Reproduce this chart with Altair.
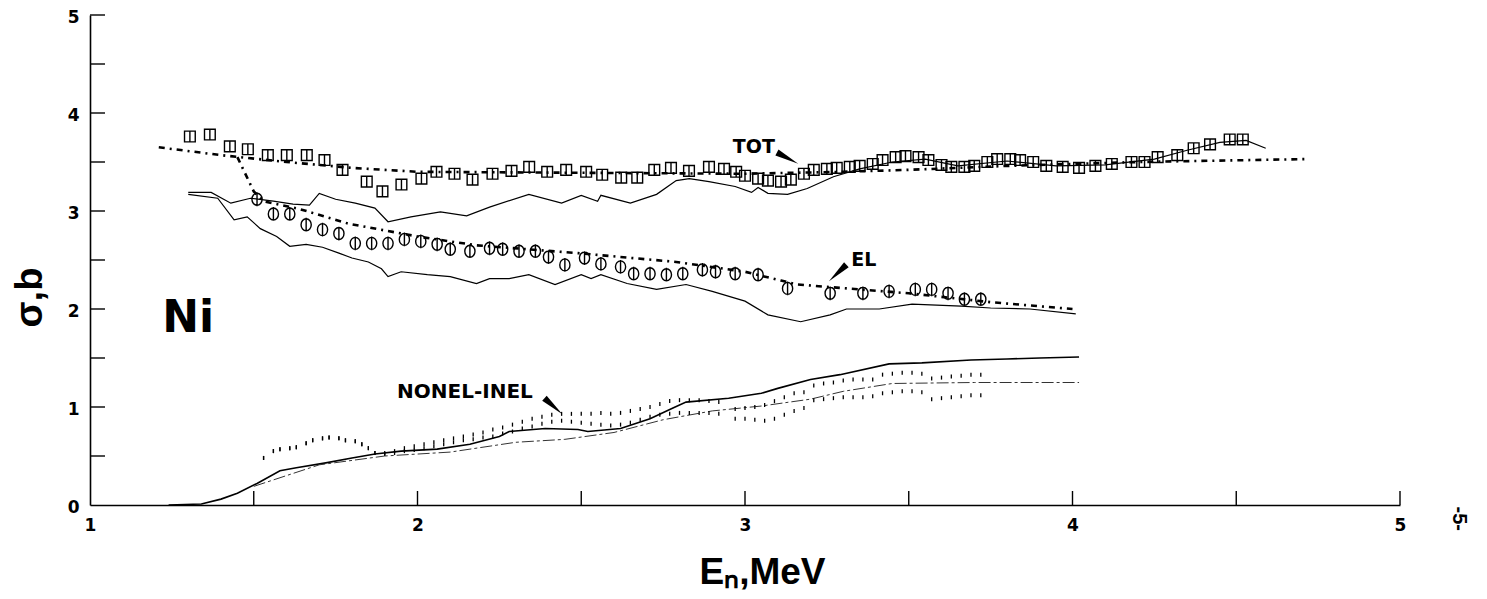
import altair as alt
import pandas as pd

# ---------------- data ----------------
# TOT experimental (squares)
tot_exp_x = [1.305, 1.366, 1.427, 1.482, 1.543, 1.601, 1.662, 1.716, 1.771, 1.845, 1.893, 1.951,
             2.012, 2.058, 2.113, 2.168, 2.229, 2.287, 2.341, 2.396, 2.454, 2.515, 2.564, 2.622,
             2.671, 2.723, 2.774, 2.829, 2.890, 2.936, 2.973,
             3.00, 3.04, 3.07, 3.11, 3.14, 3.18, 3.21, 3.25, 3.28, 3.32, 3.35, 3.39, 3.42, 3.46,
             3.49, 3.53, 3.56, 3.60, 3.63, 3.67, 3.70, 3.74, 3.77, 3.81, 3.84, 3.88, 3.92, 3.97,
             4.02, 4.07, 4.12, 4.18, 4.22, 4.26, 4.32, 4.37, 4.42, 4.48, 4.52]
tot_exp_y = [3.76, 3.78, 3.66, 3.63, 3.57, 3.57, 3.57, 3.52, 3.42, 3.30, 3.20, 3.27,
             3.33, 3.40, 3.38, 3.32, 3.38, 3.41, 3.45, 3.40, 3.42, 3.40, 3.37, 3.34,
             3.34, 3.42, 3.44, 3.41, 3.45, 3.43, 3.40,
             3.36, 3.33, 3.31, 3.30, 3.32, 3.38, 3.42, 3.43, 3.44, 3.45, 3.46, 3.48, 3.52, 3.55,
             3.56, 3.55, 3.52, 3.47, 3.45, 3.45, 3.46, 3.50, 3.53, 3.53, 3.52, 3.50, 3.46, 3.45,
             3.44, 3.46, 3.48, 3.50, 3.50, 3.55, 3.57, 3.64, 3.68, 3.73, 3.73]

# EL experimental (circles)
el_exp_x = [1.51, 1.56, 1.61, 1.66, 1.71, 1.76, 1.81, 1.86, 1.91, 1.96, 2.01, 2.06, 2.10, 2.16,
            2.22, 2.26, 2.31, 2.36, 2.40, 2.45, 2.51, 2.56, 2.62, 2.66, 2.71, 2.76, 2.81, 2.87,
            2.91, 2.97, 3.04, 3.13, 3.26, 3.36, 3.44, 3.52, 3.57, 3.62, 3.67, 3.72]
el_exp_y = [3.12, 2.97, 2.97, 2.86, 2.81, 2.77, 2.67, 2.67, 2.67, 2.71, 2.69, 2.66, 2.61, 2.59,
            2.62, 2.61, 2.59, 2.59, 2.53, 2.45, 2.52, 2.46, 2.43, 2.36, 2.36, 2.35, 2.36, 2.40,
            2.38, 2.36, 2.35, 2.21, 2.16, 2.16, 2.18, 2.20, 2.20, 2.16, 2.10, 2.10]

# evaluated curves (dash-dot)
tot_eval_x = [1.21, 1.40, 1.60, 1.80, 2.00, 2.50, 3.00, 3.30, 3.50, 3.80, 4.20, 4.72]
tot_eval_y = [3.65, 3.57, 3.50, 3.44, 3.40, 3.39, 3.38, 3.40, 3.42, 3.46, 3.50, 3.53]
el_eval_x = [1.45, 1.50, 1.53, 1.64, 1.79, 2.00, 2.18, 2.49, 2.79, 3.00, 3.11, 3.16, 3.50, 3.75, 4.00]
el_eval_y = [3.55, 3.20, 3.10, 3.02, 2.87, 2.74, 2.65, 2.57, 2.48, 2.38, 2.29, 2.25, 2.16, 2.07, 2.00]

# calculated curves (solid)
tot_calc_x = [1.30, 1.37, 1.43, 1.49, 1.56, 1.62, 1.67, 1.70, 1.75, 1.81, 1.87, 1.91, 1.98, 2.07,
              2.15, 2.22, 2.34, 2.44, 2.50, 2.55, 2.56, 2.65, 2.73, 2.79, 2.83, 2.89, 2.97, 3.02,
              3.04, 3.07, 3.13, 3.19, 3.27, 3.35, 3.45, 3.55, 3.65, 3.80, 3.95, 4.10, 4.25, 4.35,
              4.45, 4.53, 4.59]
tot_calc_y = [3.19, 3.19, 3.08, 3.13, 3.10, 3.07, 3.06, 3.18, 3.12, 3.08, 3.03, 2.89, 2.94, 2.99,
              2.95, 3.04, 3.17, 3.08, 3.16, 3.10, 3.16, 3.08, 3.17, 3.31, 3.33, 3.30, 3.25, 3.19,
              3.24, 3.18, 3.17, 3.23, 3.35, 3.43, 3.50, 3.53, 3.46, 3.51, 3.46, 3.47, 3.53, 3.62,
              3.70, 3.72, 3.64]
el_calc_x = [1.30, 1.39, 1.44, 1.48, 1.52, 1.57, 1.61, 1.66, 1.71, 1.76, 1.80, 1.85, 1.89, 1.91,
             1.95, 2.03, 2.10, 2.18, 2.22, 2.28, 2.34, 2.42, 2.50, 2.53, 2.56, 2.64, 2.73, 2.82,
             2.90, 3.00, 3.07, 3.17, 3.26, 3.31, 3.41, 3.51, 3.66, 3.75, 3.87, 4.01]
el_calc_y = [3.17, 3.13, 2.91, 2.94, 2.82, 2.74, 2.64, 2.66, 2.63, 2.57, 2.52, 2.48, 2.41, 2.33,
             2.38, 2.35, 2.33, 2.26, 2.31, 2.31, 2.35, 2.25, 2.35, 2.31, 2.35, 2.26, 2.20, 2.25,
             2.18, 2.08, 1.94, 1.87, 1.94, 2.00, 2.00, 2.05, 2.03, 2.01, 2.00, 1.95]

# NONEL-INEL
nonel_calc_x = [1.24, 1.34, 1.40, 1.45, 1.51, 1.58, 1.63, 1.72, 1.80, 1.87, 1.95, 2.06, 2.16, 2.25,
                2.28, 2.39, 2.49, 2.52, 2.62, 2.71, 2.78, 2.82, 2.95, 3.05, 3.10, 3.20, 3.29, 3.44,
                3.54, 3.69, 3.80, 3.90, 4.02]
nonel_calc_y = [0.00, 0.01, 0.06, 0.12, 0.22, 0.35, 0.38, 0.43, 0.48, 0.52, 0.55, 0.57, 0.62, 0.70,
                0.75, 0.78, 0.77, 0.75, 0.78, 0.88, 0.99, 1.05, 1.09, 1.14, 1.19, 1.28, 1.33, 1.44,
                1.45, 1.48, 1.49, 1.50, 1.51]
inel_calc_x = [1.50, 1.70, 1.90, 2.10, 2.30, 2.45, 2.60, 2.75, 2.90, 3.05, 3.20, 3.30, 3.45, 3.70, 4.02]
inel_calc_y = [0.19, 0.41, 0.50, 0.54, 0.64, 0.67, 0.74, 0.87, 0.96, 1.01, 1.08, 1.16, 1.24, 1.25, 1.25]

nonel_exp_x = [1.53, 1.56, 1.58, 1.61, 1.63, 1.66, 1.68, 1.71, 1.73, 1.76, 1.78, 1.81, 1.83, 1.85, 1.87,
               1.90, 1.93, 1.96, 1.99, 2.02, 2.05, 2.08, 2.11, 2.14, 2.17, 2.20, 2.23, 2.26, 2.29, 2.32,
               2.35, 2.38, 2.41, 2.44, 2.47, 2.50, 2.53, 2.56, 2.59, 2.62, 2.65, 2.68, 2.71, 2.74, 2.77,
               2.80, 2.83, 2.86, 2.89, 2.92, 2.97, 3.00, 3.03, 3.06, 3.09, 3.12, 3.15, 3.18, 3.21, 3.24,
               3.27, 3.30, 3.33, 3.36, 3.39, 3.42, 3.45, 3.48, 3.51, 3.54, 3.57, 3.60, 3.63, 3.66, 3.69,
               3.72]
nonel_exp_hi = [0.48, 0.55, 0.57, 0.58, 0.59, 0.63, 0.66, 0.68, 0.69, 0.68, 0.66, 0.65, 0.62, 0.58, 0.53,
                0.53, 0.55, 0.58, 0.60, 0.62, 0.64, 0.66, 0.68, 0.70, 0.72, 0.74, 0.77, 0.79, 0.82, 0.85,
                0.88, 0.90, 0.92, 0.93, 0.93, 0.93, 0.93, 0.94, 0.93, 0.94, 0.96, 0.98, 1.00, 1.03, 1.06,
                1.07, 1.07, 1.07, 1.06, 1.05, 0.98, 0.99, 1.00, 1.02, 1.06, 1.10, 1.14, 1.15, 1.22, 1.24,
                1.25, 1.27, 1.28, 1.28, 1.28, 1.33, 1.34, 1.35, 1.35, 1.34, 1.29, 1.30, 1.31, 1.32, 1.33,
                1.33]
nonel_exp_lo = [0.48, 0.55, 0.57, 0.58, 0.59, 0.63, 0.66, 0.68, 0.69, 0.68, 0.66, 0.65, 0.62, 0.58, 0.53,
                0.52, 0.53, 0.55, 0.56, 0.58, 0.60, 0.62, 0.64, 0.66, 0.67, 0.69, 0.70, 0.73, 0.75, 0.78,
                0.80, 0.83, 0.85, 0.86, 0.85, 0.84, 0.83, 0.82, 0.81, 0.82, 0.84, 0.87, 0.90, 0.92, 0.93,
                0.94, 0.94, 0.94, 0.94, 0.93, 0.88, 0.88, 0.87, 0.86, 0.88, 0.92, 0.96, 0.99, 1.07, 1.08,
                1.09, 1.10, 1.10, 1.10, 1.11, 1.14, 1.15, 1.16, 1.16, 1.15, 1.08, 1.09, 1.10, 1.11, 1.12,
                1.12]

# axes
x_labels = [1, 2, 3, 4, 5]
y_labels = [0, 1, 2, 3, 4, 5]
x_ticks = [1.5, 2, 2.5, 3, 3.5, 4, 4.5, 5]
y_ticks = [0.5, 1, 1.5, 2, 2.5, 3, 3.5, 4, 4.5, 5]

# annotations
ann_text = ["TOT", "EL", "NONEL-INEL", "Ni"]
ann_x = [3.027, 3.363, 2.145, 1.30]
ann_y = [3.656, 2.505, 1.151, 1.894]
ann_size = [19, 19, 20, 44]
arrow_x = [3.13, 3.283, 2.415]
arrow_y = [3.54, 2.368, 1.008]
arrow_angle = [117.6, 226.6, 131.6]
page_text = ["-5-"]
page_x = [5.18]
page_y = [-0.14]

# ---------------- chart ----------------
W, H = 1310, 490
FONT = "Liberation Sans"
LFONT = "DejaVu Sans"
xs = alt.Scale(domain=[1, 5], nice=False, zero=False)
ys = alt.Scale(domain=[0, 5], nice=False, zero=False)

x_axis = alt.Axis(
    values=x_labels, format="d", grid=False, ticks=False, tickSize=0,
    domain=True, domainColor="black", domainWidth=1.6,
    labelPadding=12, labelFlush=False,
    title="Eₙ,MeV", titleX=672, titleY=67, titleAlign="center", titleBaseline="middle",
    titleAngle=0, titleFontSize=37)
y_axis = alt.Axis(
    values=y_labels, format="d", grid=False, ticks=False, tickSize=0,
    domain=True, domainColor="black", domainWidth=1.6,
    labelPadding=11, labelFlush=False, labelOffset=2,
    title="σ,b", titleX=-60, titleY=282, titleAngle=270,
    titleAlign="center", titleBaseline="middle", titleFontSize=38)


def X(field="x"):
    return alt.X(f"{field}:Q", scale=xs, axis=x_axis)


def Y(field="y"):
    return alt.Y(f"{field}:Q", scale=ys, axis=y_axis)


def df(x, y):
    return pd.DataFrame({"x": x, "y": y})


sq_path = "M-1,-1L1,-1L1,1L-1,1Z M0,-1L0,1"
circ_path = "M-0.85,0A0.85,1,0,1,1,0.85,0A0.85,1,0,1,1,-0.85,0Z M0,-1.15L0,1.15"
wedge_path = "M0,-1L0.28,1L-0.28,1Z"

x_tick_layer = alt.Chart(pd.DataFrame({"x": x_ticks})).mark_rule(
    color="black", strokeWidth=1.4
).encode(x=X(), y=alt.value(H), y2=alt.value(H - 14))

y_tick_layer = alt.Chart(pd.DataFrame({"y": y_ticks})).mark_rule(
    color="black", strokeWidth=1.4
).encode(y=Y(), x=alt.value(0), x2=alt.value(15))

solid = dict(color="black", strokeWidth=1.2)
tot_calc = alt.Chart(df(tot_calc_x, tot_calc_y)).mark_line(**solid).encode(x=X(), y=Y())
el_calc = alt.Chart(df(el_calc_x, el_calc_y)).mark_line(**solid).encode(x=X(), y=Y())
nonel_calc = alt.Chart(df(nonel_calc_x, nonel_calc_y)).mark_line(
    color="black", strokeWidth=1.6).encode(x=X(), y=Y())
inel_calc = alt.Chart(df(inel_calc_x, inel_calc_y)).mark_line(
    color="#333333", strokeWidth=1.0, strokeDash=[12, 3, 3, 3]).encode(x=X(), y=Y())

dashdot = dict(color="black", strokeWidth=2.6, strokeDash=[6, 5, 2, 5])
tot_eval = alt.Chart(df(tot_eval_x, tot_eval_y)).mark_line(**dashdot).encode(x=X(), y=Y())
el_eval = alt.Chart(df(el_eval_x, el_eval_y)).mark_line(**dashdot).encode(x=X(), y=Y())

tot_pts = alt.Chart(df(tot_exp_x, tot_exp_y)).mark_point(
    shape=sq_path, filled=False, size=115, color="black", strokeWidth=1.4, opacity=1
).encode(x=X(), y=Y())
el_pts = alt.Chart(df(el_exp_x, el_exp_y)).mark_point(
    shape=circ_path, filled=False, size=144, color="black", strokeWidth=1.4, opacity=1
).encode(x=X(), y=Y())

nonel_df = pd.DataFrame({
    "x": nonel_exp_x + nonel_exp_x,
    "y": nonel_exp_hi + nonel_exp_lo,
})
nonel_pts = alt.Chart(nonel_df).mark_tick(
    orient="vertical", size=4, thickness=1.3, color="black", opacity=1
).encode(x=X(), y=Y())

ann = alt.Chart(pd.DataFrame({"x": ann_x, "y": ann_y, "t": ann_text, "s": ann_size})).mark_text(
    font="DejaVu Sans", fontWeight="bold", color="black", align="center", baseline="middle"
).encode(x=X(), y=Y(), text="t:N", size=alt.Size("s:Q", scale=None, legend=None))

arrows = alt.Chart(pd.DataFrame({"x": arrow_x, "y": arrow_y, "a": arrow_angle})).mark_point(
    shape=wedge_path, filled=True, size=576, color="black", opacity=1
).encode(x=X(), y=Y(), angle=alt.Angle("a:Q", scale=None, legend=None))

page = alt.Chart(pd.DataFrame({"x": page_x, "y": page_y, "t": page_text})).mark_text(
    font=FONT, fontSize=20, fontWeight="bold", color="black", angle=90,
    align="center", baseline="middle"
).encode(x=X(), y=Y(), text="t:N")

chart = alt.layer(
    x_tick_layer, y_tick_layer,
    nonel_calc, inel_calc, nonel_pts,
    tot_calc, el_calc, tot_eval, el_eval,
    tot_pts, el_pts,
    ann, arrows, page,
).properties(
    width=W, height=H,
    autosize=alt.AutoSizeParams(type="none"),
    padding={"left": 82, "top": 7, "right": 78, "bottom": 86},
    background="white",
).configure_view(
    strokeWidth=0
).configure_axis(
    labelFont=LFONT, labelFontSize=17, labelFontWeight="bold", labelColor="black",
    titleFont=FONT, titleFontWeight="bold", titleColor="black",
)

chart.save("out.html", embed_options={"renderer": "svg", "actions": False})
